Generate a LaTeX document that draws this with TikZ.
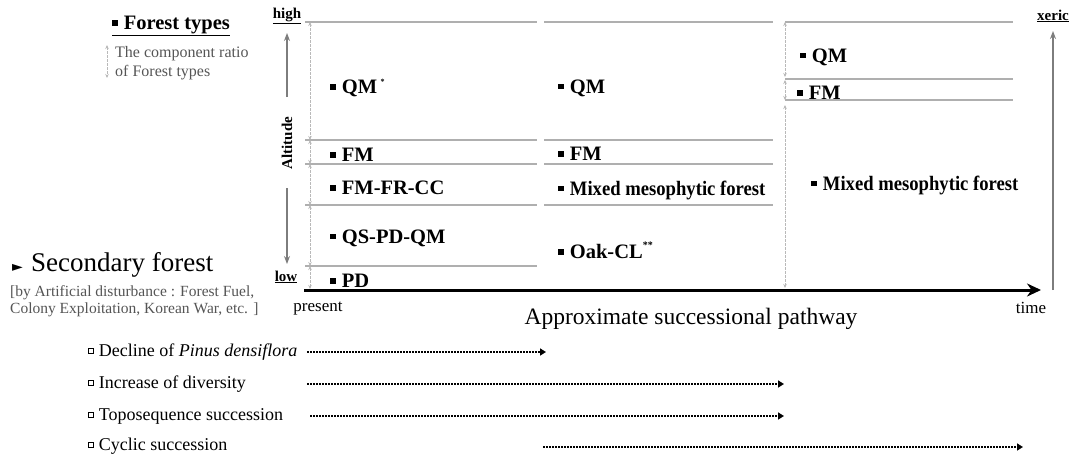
\documentclass[tikz,border=0pt]{standalone}
\usepackage{fontspec}
\setmainfont{Liberation Serif}
\newfontfamily\symfont{DejaVu Sans}
\usetikzlibrary{arrows.meta}
\definecolor{sepgray}{RGB}{175,175,175}
\definecolor{ratiogray}{RGB}{185,185,185}
\definecolor{axisgray}{RGB}{125,125,125}
\definecolor{legendgray}{RGB}{85,85,85}
\newcommand\blt{\raisebox{0.18em}{\rule{0.27em}{0.27em}}\hspace{0.3em}}
\newcommand\hsq{\raisebox{0.18em}{\setlength\fboxsep{0pt}\setlength\fboxrule{0.5pt}\fbox{\rule{0pt}{0.24em}\hspace{0.24em}}}\hspace{0.3em}}
\begin{document}
\begin{tikzpicture}[x=1pt,y=-1pt,
  sepline/.style={draw=sepgray, line width=1.1pt},
  ratio/.style={draw=ratiogray, dashed, dash pattern=on 2.5pt off 1.5pt, line width=0.8pt, {Stealth[length=4pt,width=3.5pt]}-{Stealth[length=4pt,width=3.5pt]}},
  ftype/.style={anchor=west, inner sep=0pt, font=\fontsize{20.5}{22}\selectfont\bfseries},
  axlabel/.style={inner sep=0pt, font=\fontsize{15}{17}\selectfont\bfseries},
  tick/.style={inner sep=0pt, font=\fontsize{17}{19}\selectfont},
  proc/.style={anchor=west, inner sep=0pt, font=\fontsize{18}{20}\selectfont},
  procarrow/.style={draw=black, line width=1.6pt, dash pattern=on 1.6pt off 1.4pt, -{Triangle[length=6pt,width=7pt]}},
  grayarrow/.style={draw=axisgray, line width=1.2pt, -{Stealth[length=8pt,width=6pt]}}
]
\useasboundingbox (0,0) rectangle (1074,455);

% ---- legend ----
\node[anchor=west, inner sep=0pt, font=\fontsize{20.5}{22}\selectfont\bfseries] (legtitle) at (112,26) {\underline{\blt Forest types}};
\coordinate (lega) at (107,45);
\coordinate (legb) at (107,78);
\draw[ratio] (lega) -- (legb);
\node[anchor=west, inner sep=0pt, text=legendgray, align=left, font=\fontsize{16}{18.5}\selectfont] (legtext) at (115,63) {The component ratio\\of Forest types};

% ---- secondary forest ----
\node[anchor=west, inner sep=0pt, font=\fontsize{27}{29}\selectfont] (secf) at (12,265) {{\symfont\fontsize{14}{15}\selectfont ►}\hspace{0.3em}Secondary forest};
\node[anchor=west, inner sep=0pt, text=legendgray, align=left, font=\fontsize{15.5}{17}\selectfont] (secnote) at (10,301.5) {[by Artificial disturbance : Forest Fuel,\\Colony Exploitation, Korean War, etc. ]};

% ---- altitude axis ----
\node[axlabel] (high) at (287,16) {\underline{high}};
\node[axlabel] (low) at (286,277) {\underline{low}};
\node[axlabel, rotate=90] (alt) at (287,143) {Altitude};
\coordinate (upS) at (287,97);
\coordinate (upE) at (287,33);
\coordinate (dnS) at (287,188);
\coordinate (dnE) at (287,264);
\draw[grayarrow] (upS) -- (upE);
\draw[grayarrow] (dnS) -- (dnE);

% ---- xeric axis ----
\node[axlabel] (xeric) at (1053,16) {\underline{xeric}};
\coordinate (xS) at (1053,290);
\coordinate (xE) at (1053,31);
\draw[grayarrow] (xS) -- (xE);

% ---- column 1 ----
\foreach \y in {22,140,164,205,266} \draw[sepline] (305,\y) -- (537,\y);
\foreach \a/\b in {22/140,140/164,164/205,205/266,266/289} \draw[ratio] (310,\a) -- (310,\b);
\node[ftype] (c1qm) at (330,88) {\blt QM\,\raisebox{0.45em}{\fontsize{8}{9}\selectfont *}};
\node[ftype] (c1fm) at (330,155) {\blt FM};
\node[ftype] (c1ffc) at (330,188) {\blt FM-FR-CC};
\node[ftype] (c1qpq) at (330,238) {\blt QS-PD-QM};
\node[ftype] (c1pd) at (330,281) {\blt PD};

% ---- column 2 ----
\foreach \y in {22,140,164,205} \draw[sepline] (544,\y) -- (773,\y);
\node[ftype] (c2qm) at (558,88) {\blt QM};
\node[ftype] (c2fm) at (558,154) {\blt FM};
\node[ftype] (c2mix) at (558,190) {\blt \scalebox{0.91}[1]{Mixed mesophytic forest}};
\node[ftype] (c2oak) at (558,250) {\blt Oak-CL\raisebox{0.5em}{\fontsize{10}{11}\selectfont **}};

% ---- column 3 ----
\foreach \y in {22,79,100} \draw[sepline] (785,\y) -- (1013,\y);
\foreach \a/\b in {22/77,80/100,105/288} \draw[ratio] (785,\a) -- (785,\b);
\node[ftype] (c3qm) at (800,57) {\blt QM};
\node[ftype] (c3fm) at (797,93) {\blt FM};
\node[ftype] (c3mix) at (811,185) {\blt \scalebox{0.91}[1]{Mixed mesophytic forest}};

% ---- time axis ----
\coordinate (tS) at (304,290);
\coordinate (tE) at (1041,290);
\draw[line width=3pt, -{Stealth[length=14pt,width=13pt]}] (tS) -- (tE);
\node[tick] (present) at (318,309) {present};
\node[tick] (time) at (1031,308) {time};
\node[inner sep=0pt, font=\fontsize{23.5}{25}\selectfont] (pathway) at (691,319) {Approximate successional pathway};

% ---- processes ----
\node[proc] (p1) at (88,352) {\hsq Decline of \textit{Pinus densiflora}};
\node[proc] (p2) at (88,384) {\hsq Increase of diversity};
\node[proc] (p3) at (88,416) {\hsq Toposequence succession};
\node[proc] (p4) at (88,446) {\hsq Cyclic succession};
\coordinate (a1s) at (307,352); \coordinate (a1e) at (546,352);
\coordinate (a2s) at (307,384); \coordinate (a2e) at (784,384);
\coordinate (a3s) at (310,416); \coordinate (a3e) at (784,416);
\coordinate (a4s) at (543,447); \coordinate (a4e) at (1023,447);
\draw[procarrow] (a1s) -- (a1e);
\draw[procarrow] (a2s) -- (a2e);
\draw[procarrow] (a3s) -- (a3e);
\draw[procarrow] (a4s) -- (a4e);
\end{tikzpicture}
\end{document}
